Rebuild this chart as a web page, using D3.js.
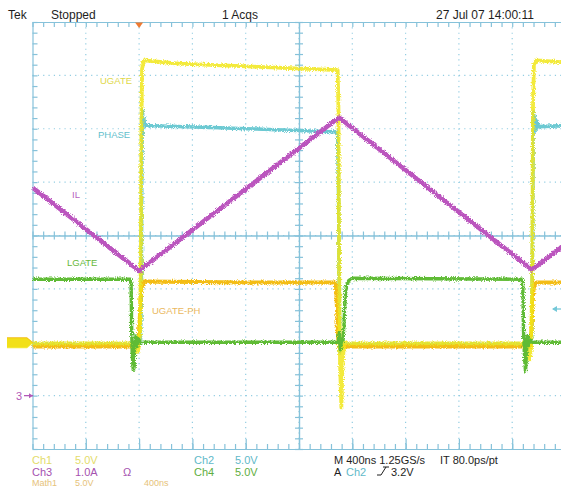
<!DOCTYPE html>
<html>
<head>
<meta charset="utf-8">
<script src="https://cdn.jsdelivr.net/npm/d3@7"></script>
<style>
  html, body { margin: 0; padding: 0; background: #fff; }
  svg { display: block; }
  text { font-family: "Liberation Sans Narrow", "Liberation Sans", Arial, sans-serif; }
</style>
</head>
<body>
<svg id="scope" width="561" height="486"></svg>
<script>
// Acquisition settings
const timePerDiv = 400;          // ns / div
const triggerTime = 0;           // ns
const timeDomain = [-800, 3200]; // 10 divisions

// Channel settings: vertical scale (units/div) and ground position (div)
const ch1Scale = 5.0, ch1Offset = -2;   // UGATE, V
const ch2Scale = 5.0, ch2Offset = -2;   // PHASE, V
const ch3Scale = 1.0, ch3Offset = -3;   // IL, A
const ch4Scale = 5.0, ch4Offset = -2;   // LGATE, V
const mathScale = 5.0, mathOffset = -2; // UGATE-PH, V

// Captured waveforms: [time ns, value]
const ch1Wave = [[-800,-0.1],[-25,-0.1],[-12,-0.9],[0,-0.4],[8,1],[13,8],[17,20],[22,25.6],[36,26.4],[300,26.1],[900,25.8],[1490,25.5],[1496,22],[1501,8],[1508,-2],[1518,-6.1],[1526,-2.5],[1538,0],[1560,-0.1],[2920,-0.1],[2932,-1.6],[2942,-0.5],[2950,6],[2956,22],[2963,26],[2980,26.4],[3200,26.2]];
const ch2Wave = [[-800,-0.2],[10,-0.2],[16,4],[21,17],[25,21.8],[30,20.2],[35,21],[42,20.3],[600,20.1],[1490,19.7],[1497,14],[1504,1],[1510,-1],[1520,-0.2],[2946,-0.2],[2953,10],[2958,21.6],[2964,19.6],[2970,21.2],[2978,19.9],[2988,20.7],[3000,20.2],[3200,20.3]];
const ch3Wave = [[-800,3.90],[0,2.34],[1500,5.21],[2948,2.36],[3200,2.84]];
const ch4Wave = [[-800,5.9],[-66,5.9],[-60,5.4],[-56,1.5],[-52,-1],[-44,-2.6],[-38,-2.4],[-33,-0.6],[-24,0.6],[-14,-0.3],[-4,0.3],[12,-0.1],[30,0],[1494,0],[1502,0.9],[1510,-0.7],[1520,0.3],[1530,0.1],[1538,1.8],[1546,4.2],[1556,5.3],[1575,5.8],[1600,6.0],[2874,5.9],[2880,5.2],[2885,1],[2892,-1.2],[2900,-2.7],[2906,-1.2],[2914,0.6],[2924,-0.3],[2936,0.2],[2950,0],[3200,0]];
const mathWave = [[-800,-0.4],[-10,-0.4],[-2,0.5],[6,2.5],[12,4.3],[20,5.2],[40,5.7],[800,5.6],[1470,5.6],[1478,5.2],[1486,3],[1492,0.8],[1500,-0.4],[2936,-0.4],[2944,1],[2952,3.5],[2960,5],[2975,5.6],[3200,5.6]];

// Trace labels
const traceLabels = ["UGATE", "PHASE", "IL", "LGATE", "UGATE-PH"];

// Status line texts
const headerTexts = ["Tek", "Stopped", "1 Acqs", "27 Jul 07 14:00:11"];
const readoutRow1 = ["Ch1", "5.0V", "Ch2", "5.0V", "M 400ns 1.25GS/s", "IT 80.0ps/pt"];
const readoutRow2 = ["Ch3", "1.0A", "Ω", "Ch4", "5.0V", "A", "Ch2", "3.2V"];
const readoutRow3 = ["Math1", "5.0V", "400ns"];

const svg = d3.select("#scope");

const x = d3.scaleLinear().domain(timeDomain).range([32.5, 565.5]);
const yDiv = d3.scaleLinear().domain([-4, 4]).range([449, 22]);

const gridColor = "#93cde2";
const borderColor = "#86c2da";

// Jitter filter for the acquired traces
const defs = svg.append("defs");
const flt = defs.append("filter").attr("id", "noise")
  .attr("filterUnits", "userSpaceOnUse")
  .attr("x", 0).attr("y", 0).attr("width", 561).attr("height", 486);
flt.append("feTurbulence").attr("type", "fractalNoise")
  .attr("baseFrequency", "1.1 0.9").attr("numOctaves", 2).attr("seed", 4).attr("result", "n");
flt.append("feDisplacementMap").attr("in", "SourceGraphic").attr("in2", "n")
  .attr("scale", 4.5).attr("xChannelSelector", "R").attr("yChannelSelector", "G").attr("result", "d");
flt.append("feGaussianBlur").attr("in", "d").attr("stdDeviation", 0.35);

// ---- Graticule ----
const grat = svg.append("g");
const majorT = d3.range(timeDomain[0] + timePerDiv, timeDomain[1], timePerDiv);
const majorV = d3.range(-3, 4, 1);
const minorT = d3.range(timeDomain[0], timeDomain[1] + 1, timePerDiv / 5);
const minorV = d3.range(-4, 4.001, 0.2);

grat.selectAll("line.gv").data(majorT).join("line")
  .attr("x1", d => x(d)).attr("x2", d => x(d))
  .attr("y1", yDiv(4)).attr("y2", yDiv(-4))
  .attr("stroke", gridColor).attr("stroke-width", 1.2)
  .attr("stroke-dasharray", "1.2,4.13");
grat.selectAll("line.gh").data(majorV).join("line")
  .attr("x1", x(timeDomain[0])).attr("x2", x(timeDomain[1]))
  .attr("y1", d => yDiv(d)).attr("y2", d => yDiv(d))
  .attr("stroke", gridColor).attr("stroke-width", 1.2)
  .attr("stroke-dasharray", "1.2,4.13");

// Border with ticks
const topAxis = d3.axisTop(x).tickValues(minorT).tickSizeInner(-5).tickSizeOuter(0).tickFormat("");
const bottomMinor = d3.axisBottom(x).tickValues(minorT).tickSizeInner(-5).tickSizeOuter(0).tickFormat("");
const bottomMajor = d3.axisBottom(x).tickValues(majorT).tickSizeInner(-10).tickSizeOuter(0).tickFormat("");
const leftAxis = d3.axisLeft(yDiv).tickValues(minorV).tickSizeInner(-5).tickSizeOuter(0).tickFormat("");
const centerH1 = d3.axisBottom(x).tickValues(minorT).tickSizeInner(4).tickSizeOuter(0).tickFormat("");
const centerH2 = d3.axisTop(x).tickValues(minorT).tickSizeInner(4).tickSizeOuter(0).tickFormat("");
const centerV1 = d3.axisLeft(yDiv).tickValues(minorV).tickSizeInner(4).tickSizeOuter(0).tickFormat("");
const centerV2 = d3.axisRight(yDiv).tickValues(minorV).tickSizeInner(4).tickSizeOuter(0).tickFormat("");

function styleAxis(g) {
  g.selectAll("path, line").attr("stroke", borderColor).attr("stroke-width", 1.2);
}
grat.append("g").attr("transform", `translate(0,${yDiv(4)})`).call(topAxis).call(styleAxis);
grat.append("g").attr("transform", `translate(0,${yDiv(-4)})`).call(bottomMinor).call(styleAxis);
grat.append("g").attr("transform", `translate(0,${yDiv(-4)})`).call(bottomMajor).call(styleAxis);
grat.append("g").attr("transform", `translate(${x(timeDomain[0])},0)`).call(leftAxis).call(styleAxis);
grat.append("g").attr("transform", `translate(0,${yDiv(0)})`).call(centerH1).call(styleAxis);
grat.append("g").attr("transform", `translate(0,${yDiv(0)})`).call(centerH2).call(styleAxis);
grat.append("g").attr("transform", `translate(${x(1200)},0)`).call(centerV1).call(styleAxis);
grat.append("g").attr("transform", `translate(${x(1200)},0)`).call(centerV2).call(styleAxis);

// Trigger position marker
svg.append("path")
  .attr("d", `M${x(triggerTime) - 4},${yDiv(4) + 0.5} L${x(triggerTime) + 4},${yDiv(4) + 0.5} L${x(triggerTime)},${yDiv(4) + 6} Z`)
  .attr("fill", "#f07a30");

// ---- Traces ----
const traces = svg.append("g").attr("filter", "url(#noise)");
function drawTrace(data, scale, offset, color, width, opacity) {
  const line = d3.line()
    .x(d => x(d[0]))
    .y(d => yDiv(offset + d[1] / scale));
  traces.append("path").datum(data)
    .attr("d", line)
    .attr("fill", "none")
    .attr("stroke", color)
    .attr("stroke-width", width)
    .attr("stroke-opacity", opacity)
    .attr("stroke-linejoin", "round");
}
drawTrace(ch2Wave, ch2Scale, ch2Offset, "#6cc9d2", 3.6, 1);
drawTrace(mathWave, mathScale, mathOffset, "#f3bd12", 4, 1);
drawTrace(ch1Wave, ch1Scale, ch1Offset, "#f1e61a", 3.8, 0.85);
drawTrace(ch4Wave, ch4Scale, ch4Offset, "#5fbb35", 3.4, 1);
drawTrace(ch3Wave, ch3Scale, ch3Offset, "#bb54be", 4.6, 1);

// Ground reference markers on the left edge
const gy = yDiv(-2);
const mk = svg.append("g");
[["#f3bd12", 1], ["#f1e61a", 0.85]].forEach(([c, o], i) => {
  mk.append("path")
    .attr("d", `M7,${gy - 5 + i} L27,${gy - 5 + i} L33,${gy + i} L27,${gy + 5 + i} L7,${gy + 5 + i} Z`)
    .attr("fill", c).attr("fill-opacity", o);
});
// Channel 3 ground marker
const g3 = yDiv(ch3Offset);
mk.append("text").attr("x", 16).attr("y", g3 + 4).attr("font-size", 11)
  .attr("fill", "#b25ab8").text("3");
mk.append("path").attr("d", `M24,${g3} L33,${g3}`).attr("stroke", "#b25ab8").attr("stroke-width", 1.3);
mk.append("path").attr("d", `M29,${g3 - 2.5} L33,${g3} L29,${g3 + 2.5} Z`).attr("fill", "#b25ab8");
// Trigger level arrow
const ty = 309;
mk.append("path").attr("d", `M553,${ty} L561,${ty}`).attr("stroke", "#74c8d8").attr("stroke-width", 1.3);
mk.append("path").attr("d", `M552,${ty} L557,${ty - 3} L557,${ty + 3} Z`).attr("fill", "#74c8d8");

// ---- Trace labels ----
const lab = svg.append("g").attr("font-size", 9.5);
const labelColors = ["#e0d84a", "#63c0cc", "#b75fbf", "#66b83a", "#eab860"];
const labelPos = [[100, 84], [98, 138], [72, 198], [67, 266], [152, 314]];
traceLabels.forEach((t, i) => {
  lab.append("text").attr("x", labelPos[i][0]).attr("y", labelPos[i][1])
    .attr("fill", labelColors[i]).text(t);
});

// ---- Status line ----
const hdr = svg.append("g").attr("font-size", 12).attr("fill", "#1e1e1e");
const hdrX = [8, 51, 222, 436];
headerTexts.forEach((t, i) => hdr.append("text").attr("x", hdrX[i]).attr("y", 19).text(t));

// ---- Readouts ----
const ro = svg.append("g").attr("font-size", 11);
function put(txt, xx, yy, c, fs) {
  const t = ro.append("text").attr("x", xx).attr("y", yy).attr("fill", c).text(txt);
  if (fs) t.attr("font-size", fs);
}
const yel = "#e3dc6a", cya = "#5fb9c9", mag = "#a552b0", grn = "#5fae3e", org = "#e6c27a", blk = "#1e1e1e";
const r1 = 463.5, r2 = 476, r3 = 485.5;
put(readoutRow1[0], 32, r1, yel);
put(readoutRow1[1], 75, r1, yel);
put(readoutRow1[2], 194, r1, cya);
put(readoutRow1[3], 235, r1, cya);
put(readoutRow1[4], 334, r1, blk);
put(readoutRow1[5], 440, r1, blk);
put(readoutRow2[0], 32, r2, mag);
put(readoutRow2[1], 75, r2, mag);
put(readoutRow2[2], 123, r2, mag);
put(readoutRow2[3], 194, r2, grn);
put(readoutRow2[4], 235, r2, grn);
put(readoutRow2[5], 334, r2, blk);
put(readoutRow2[6], 346, r2, cya);
put(readoutRow2[7], 391, r2, blk);
// rising-edge trigger symbol
ro.append("path").attr("d", `M377,${r2 - 1} L381,${r2 - 1} L386,${r2 - 9} M383,${r2 - 9} L389,${r2 - 9}`)
  .attr("stroke", blk).attr("stroke-width", 1).attr("fill", "none");
put(readoutRow3[0], 32, r3, org, 9);
put(readoutRow3[1], 75, r3, org, 9);
put(readoutRow3[2], 144, r3, org, 9);
</script>
</body>
</html>
